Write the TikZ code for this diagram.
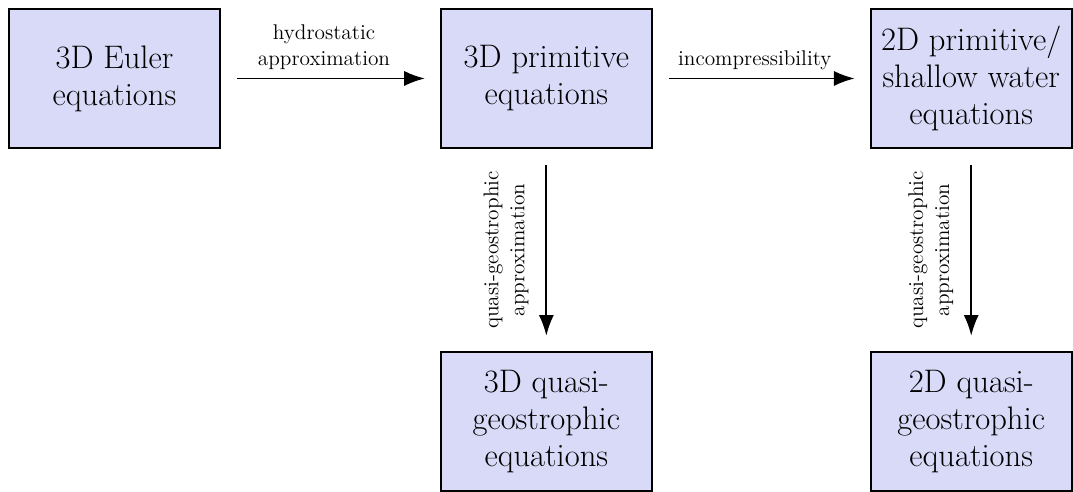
\documentclass[tikz,border=0pt]{standalone}
\usepackage{amsmath}
\usepackage{tikz}
\usetikzlibrary{arrows.meta}
\usetikzlibrary{positioning}
\definecolor{mlav}{RGB}{217, 217, 248}

\tikzset{
  eqbox/.style={draw, line width=1pt, fill=mlav, align=center, minimum width=3.93cm,
    minimum height=2.6cm, font=\fontsize{17.28}{19.6}\selectfont},
  lbl/.style={align=center, font=\fontsize{11.3}{13.8}\selectfont},
  arr/.style={line width=1pt, -{Latex[length=11pt, width=8pt]}, shorten <=0.3cm, shorten >=0.28cm}
}

\begin{document}
\begin{tikzpicture}
      \useasboundingbox (-2.134, 1.463) rectangle (17.867, -7.708);

      \node (euler) at (0, 0) [eqbox] {3D Euler\\equations};
      \node (prim3) at (8.05, 0) [eqbox] {3D primitive\\equations};
      \node (prim2) at (15.97, 0) [eqbox, minimum width=3.75cm] {2D primitive/\\shallow water\\equations};
      \node (qg3) at (8.05, -6.394) [eqbox] {3D quasi-\\geostrophic\\equations};
      \node (qg2) at (15.97, -6.394) [eqbox, minimum width=3.75cm] {2D quasi-\\geostrophic\\equations};

      \draw [arr] (euler) -- node [midway, above, lbl, xshift=-1.2mm, yshift=1pt] {hydrostatic\\approximation} (prim3);
      \draw [arr] (prim3) -- node [midway, above, lbl, xshift=-1.2mm, yshift=1pt] {incompressibility} (prim2);

      % side labels, read from bottom to top
      \draw [arr] (prim3) -- node [midway, rotate=90, anchor=south, inner ysep=9pt, lbl] {quasi-geostrophic\\approximation} (qg3);
      \draw [arr] (prim2) -- node [midway, rotate=90, anchor=south, inner ysep=9pt, lbl] {quasi-geostrophic\\approximation} (qg2);
    \end{tikzpicture}
\end{document}
